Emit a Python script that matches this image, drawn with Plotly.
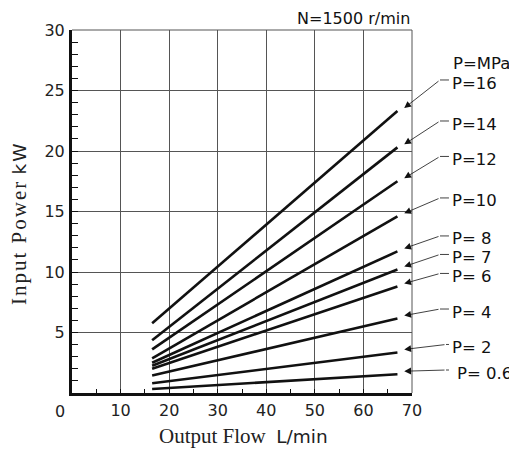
import plotly.graph_objects as go

# pump input power vs output flow, N=1500 r/min
pressure_labels = ["P=16", "P=14", "P=12", "P=10", "P= 8", "P= 7", "P= 6", "P= 4", "P= 2", "P= 0.6"]
flow_range = [16.5, 67.0]
power_at_min_flow = [5.76, 4.36, 3.6, 2.87, 2.5, 2.25, 2.0, 1.45, 0.8, 0.33]
power_at_max_flow = [23.3, 20.3, 17.5, 14.6, 11.7, 10.2, 8.8, 6.15, 3.35, 1.55]

x_ticks = [10, 20, 30, 40, 50, 60, 70]
y_ticks = [5, 10, 15, 20, 25, 30]

# label rows (in y axis units) on the right hand side
label_rows = [25.62, 22.23, 19.3, 15.87, 12.73, 11.2, 9.63, 6.69, 3.76, 1.65]

# page geometry (the page body adds an 8px offset)
OFF = 8
W, H = 517, 450
ML, MT = 72, 30
PW, PH = 340, 363
XMAX, YMAX = 70, 30

sans = "DejaVu Sans"
serif = "Liberation Serif"

fig = go.Figure()

for lab, y0, y1 in zip(pressure_labels, power_at_min_flow, power_at_max_flow):
    fig.add_trace(go.Scatter(
        x=flow_range, y=[y0, y1], mode="lines", name=lab,
        line=dict(color="#111", width=2.6), showlegend=False, hoverinfo="skip"))

def to_px(x, y):
    return ML + x / XMAX * PW, MT + (1 - y / YMAX) * PH

def px_x(p):
    return (p - ML) / PW

def px_y(p):
    return (MT + PH - p) / PH

annotations = []
shapes = []
text_xp = px_x(450)

for i, (lab, y1, ly) in enumerate(zip(pressure_labels, power_at_max_flow, label_rows)):
    tip_x, tip_y = 68.4, y1 + 0.25
    kx = px_x(440) if i < 8 else px_x(446)
    ky = ly + 0.25
    tpx, tpy = to_px(tip_x, tip_y)
    kpx, kpy = ML + kx * PW, MT + (1 - ky / YMAX) * PH
    annotations.append(dict(
        x=tip_x, y=tip_y, xref="x", yref="y", text="", showarrow=True,
        ax=kpx - tpx, ay=kpy - tpy, axref="pixel", ayref="pixel",
        arrowhead=2, arrowsize=1.7, arrowwidth=0.8, arrowcolor="#111", standoff=0))
    shapes.append(dict(type="line", xref="paper", yref="y", x0=kx, x1=text_xp - 0.003,
                       y0=ky, y1=ky, line=dict(color="#111", width=0.8)))
    annotations.append(dict(
        x=text_xp if i < 9 else px_x(455), y=ly, xref="paper", yref="y",
        text=lab, showarrow=False, xanchor="left", yanchor="middle",
        font=dict(family=sans, size=16.5, color="#111")))

annotations.append(dict(x=px_x(451), y=27.27, xref="paper", yref="y", text="P=MPa",
                        showarrow=False, xanchor="left", yanchor="middle",
                        font=dict(family=sans, size=16.5, color="#111")))
annotations.append(dict(x=1.0, y=px_y(18), xref="paper", yref="paper", text="N=1500 r/min",
                        showarrow=False, xanchor="right", yanchor="middle",
                        font=dict(family=sans, size=16, color="#111")))
# origin label sits left of the axis
annotations.append(dict(x=px_x(60), y=px_y(411), xref="paper", yref="paper", text="0",
                        showarrow=False, xanchor="center", yanchor="middle",
                        font=dict(family=sans, size=16, color="#222")))
annotations.append(dict(x=px_x(243.5), y=px_y(436), xref="paper", yref="paper",
                        text="Output Flow\u00a0\u00a0<span style='font-family:DejaVu Sans;font-size:18.5px'>L/min</span>",
                        showarrow=False, xanchor="center", yanchor="middle",
                        font=dict(family=serif, size=21, color="#222")))
annotations.append(dict(x=px_x(19), y=px_y(223), xref="paper", yref="paper",
                        text="<span style='letter-spacing:2px'>Input Power</span> "
                             "<span style='font-family:DejaVu Sans;font-size:18.5px;letter-spacing:2px'>kW</span>",
                        textangle=-90, showarrow=False, xanchor="center", yanchor="middle",
                        font=dict(family=serif, size=21, color="#222")))

# thin frame on top and right
shapes.append(dict(type="line", xref="paper", yref="paper", x0=0, x1=1, y0=1, y1=1,
                   line=dict(color="#555", width=1)))
shapes.append(dict(type="line", xref="paper", yref="paper", x0=1, x1=1, y0=0, y1=1,
                   line=dict(color="#555", width=1)))

fig.update_layout(
    width=W - OFF, height=H - OFF,
    margin=dict(l=ML - OFF, r=W - ML - PW, t=MT - OFF, b=H - MT - PH, autoexpand=False),
    paper_bgcolor="white", plot_bgcolor="white",
    annotations=annotations, shapes=shapes,
    xaxis=dict(range=[0, XMAX], tickvals=x_ticks, showgrid=True, gridcolor="#555", gridwidth=1,
               showline=True, linecolor="#111", linewidth=3, zeroline=False,
               ticks="inside", ticklen=4, tickcolor="#111", ticklabelstandoff=1,
               tickfont=dict(family=sans, size=16, color="#222"),
               minor=dict(dtick=5, tick0=0, ticks="inside", ticklen=4, tickcolor="#111", showgrid=False)),
    yaxis=dict(range=[0, YMAX], tickvals=y_ticks, showgrid=True, gridcolor="#555", gridwidth=1,
               showline=True, linecolor="#111", linewidth=3, zeroline=False,
               ticks="inside", ticklen=6, tickcolor="#111", ticklabelstandoff=1,
               tickfont=dict(family=sans, size=16, color="#222"),
               minor=dict(dtick=1, tick0=0, ticks="inside", ticklen=6, tickcolor="#111", showgrid=False)),
)

fig.write_html("out.html")
